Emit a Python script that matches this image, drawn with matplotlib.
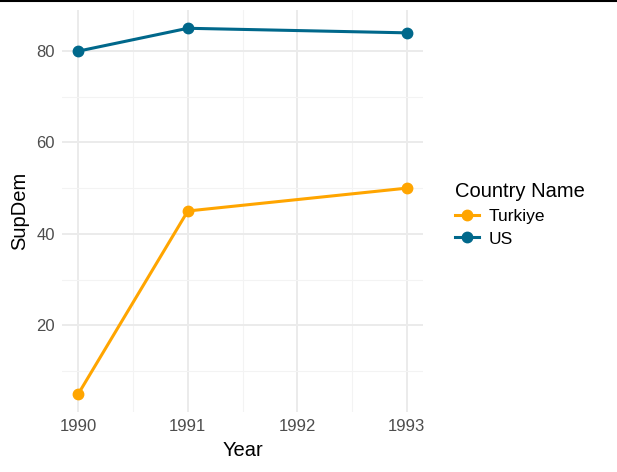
import matplotlib
matplotlib.use("Agg")
import matplotlib.pyplot as plt
from matplotlib.lines import Line2D

years = [1990, 1991, 1993]
turkiye = [5, 45, 50]
us = [80, 85, 84]
countries = ["Turkiye", "US"]
colors = {"Turkiye": "#FFA500", "US": "#00688B"}

plt.rcParams["font.family"] = ["Liberation Sans", "DejaVu Sans"]

fig = plt.figure(figsize=(6.17, 4.72), dpi=100)
ax = fig.add_axes([62 / 617, 1 - 412 / 472, (423 - 62) / 617, (412 - 10) / 472])

for name, vals in zip(countries, [turkiye, us]):
    ax.plot(years, vals, color=colors[name], lw=2.2, marker="o", ms=7.5, label=name, zorder=3)

ax.set_xlim(1989.85, 1993.15)
ax.set_ylim(1, 89)
ax.set_xticks([1990, 1991, 1992, 1993])
ax.set_xticks([1990.5, 1991.5, 1992.5], minor=True)
ax.set_yticks([20, 40, 60, 80])
ax.set_yticks([10, 30, 50, 70], minor=True)
ax.grid(which="major", color="#EBEBEB", lw=1.4)
ax.grid(which="minor", color="#F3F3F3", lw=0.8)
for s in ax.spines.values():
    s.set_visible(False)
ax.tick_params(which="both", length=0, labelsize=12, labelcolor="#4D4D4D", pad=5)
ax.set_xlabel("Year", fontsize=14.5, labelpad=5)
ax.set_ylabel("SupDem", fontsize=14.5, labelpad=5)

handles = [Line2D([0], [0], color=colors[c], lw=2.2, marker="o", ms=7.5) for c in countries]
leg = fig.legend(handles, countries, title="Country Name", loc="upper left",
                 bbox_to_anchor=(439 / 617, 1 - 166 / 472), frameon=False,
                 fontsize=12.5, title_fontsize=14.5, handlelength=1.4,
                 handletextpad=0.55, labelspacing=0.45)
leg._legend_box.align = "left"

# thin black rule along the top edge
fig.add_artist(Line2D([0, 1], [1 - 1 / 472, 1 - 1 / 472], color="black", lw=1.5,
                      transform=fig.transFigure))

fig.savefig("out.png", dpi=100)
